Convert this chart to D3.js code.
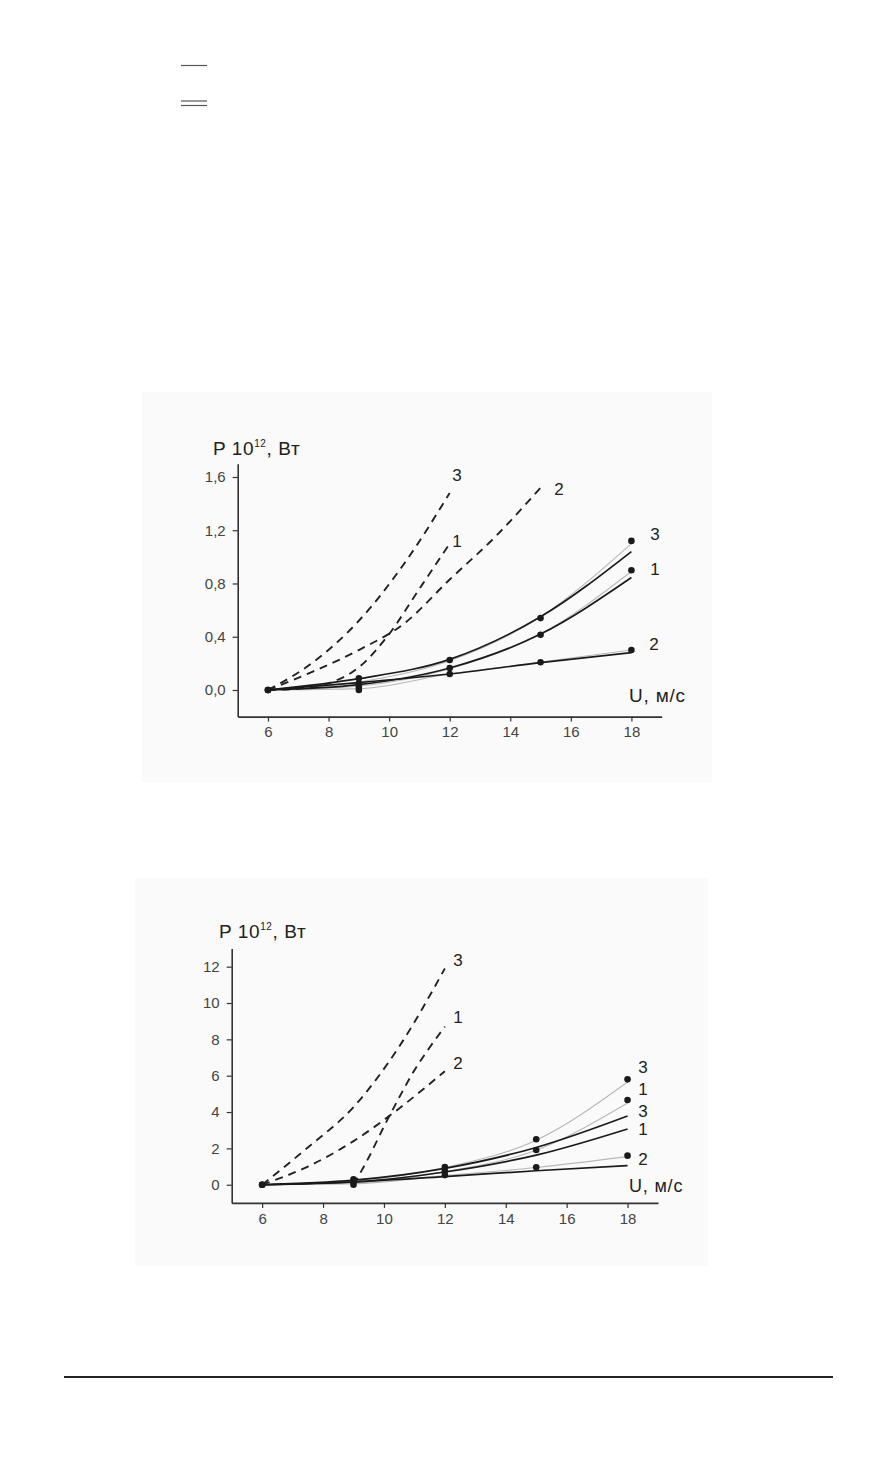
<!DOCTYPE html>
<html>
<head>
<meta charset="utf-8">
<script src="https://cdn.jsdelivr.net/npm/d3@7"></script>
<style>
  body { margin: 0; background: #fff; }
  text { font-family: "Liberation Sans", Arial, sans-serif; }
</style>
</head>
<body>
<script>
// wind speeds where points were computed
var speeds = [6, 9, 12, 15, 18];
var xTicks = [6, 8, 10, 12, 14, 16, 18];

// ---- chart 1 (upper) ----
var yTicks1 = [0, 0.4, 0.8, 1.2, 1.6];
var dots1_3 = [0, 0.088, 0.225, 0.54, 1.12];
var dots1_1 = [0, 0.05, 0.165, 0.415, 0.90];
var dots1_2 = [0, 0.025, 0.12, 0.208, 0.30];
var extraDots1 = [0];           // extra point at 9 m/s
var fit1_3 = [0, 0.085, 0.23, 0.55, 1.04];
var fit1_1 = [0, 0.04, 0.165, 0.42, 0.845];
var fit1_2 = [0, 0.055, 0.12, 0.205, 0.28];
var grey1_3 = [0, 0.06, 0.22, 0.55, 1.10];
var grey1_1 = [0, 0.03, 0.16, 0.42, 0.89];
var grey1_2 = [0, 0.01, 0.12, 0.21, 0.30];
var dashU1_3 = [6, 7.5, 9, 10.5, 12];
var dashP1_3 = [0, 0.21, 0.52, 0.95, 1.48];
var dashU1_1 = [6, 7, 8, 9, 10, 11, 12];
var dashP1_1 = [0, 0.01, 0.05, 0.17, 0.42, 0.76, 1.1];
var dashU1_2 = [6, 7.5, 9, 10.5, 12, 13.5, 15];
var dashP1_2 = [0, 0.14, 0.30, 0.50, 0.83, 1.15, 1.52];

// ---- chart 2 (lower) ----
var yTicks2 = [0, 2, 4, 6, 8, 10, 12];
var dots2_3 = [0, 0.3, 0.97, 2.5, 5.8];
var dots2_1 = [0, 0.15, 0.75, 1.91, 4.66];
var dots2_2 = [0, 0.0, 0.53, 0.96, 1.6];
var fit2_3 = [0, 0.25, 0.9, 2.05, 3.78];
var fit2_1 = [0, 0.15, 0.7, 1.63, 3.07];
var fit2_2 = [0, 0.15, 0.45, 0.77, 1.05];
var grey2_3 = [0, 0.2, 0.95, 2.45, 5.65];
var grey2_1 = [0, 0.1, 0.72, 1.9, 4.5];
var grey2_2 = [0, 0.05, 0.5, 0.95, 1.55];
var dashU2_3 = [6, 7.5, 9, 10.5, 12];
var dashP2_3 = [0, 2.05, 4.27, 7.6, 11.9];
var dashU2_1 = [9, 9.5, 10, 10.5, 11, 11.5, 12];
var dashP2_1 = [0, 1.5, 3.2, 4.8, 6.3, 7.55, 8.7];
var dashU2_2 = [6, 7.5, 9, 10.5, 12];
var dashP2_2 = [0, 1.0, 2.4, 4.2, 6.25];

var width = 884, height = 1464;

var svg = d3.select("body")
            .append("svg")
            .attr("width", width)
            .attr("height", height);

// legend strokes at the top of the page
svg.append("line").attr("x1", 181).attr("x2", 207).attr("y1", 65.5).attr("y2", 65.5)
   .attr("stroke", "#555").attr("stroke-width", 1.2);
svg.append("line").attr("x1", 181).attr("x2", 207).attr("y1", 101).attr("y2", 101)
   .attr("stroke", "#555").attr("stroke-width", 1.2);
svg.append("line").attr("x1", 181).attr("x2", 207).attr("y1", 105.5).attr("y2", 105.5)
   .attr("stroke", "#555").attr("stroke-width", 1.2);

// rule at the bottom
svg.append("line").attr("x1", 64).attr("x2", 833).attr("y1", 1377).attr("y2", 1377)
   .attr("stroke", "#222").attr("stroke-width", 2);

function zip(us, ps) {
  return us.map(function(u, i) { return {u: u, p: ps[i]}; });
}

function drawChart(cfg) {
  var g = svg.append("g");

  g.append("rect")
   .attr("x", cfg.panel[0]).attr("y", cfg.panel[1])
   .attr("width", cfg.panel[2]).attr("height", cfg.panel[3])
   .attr("fill", "#fafafa");

  var x = d3.scaleLinear().domain([5, 19]).range(cfg.xRange);
  var y = d3.scaleLinear().domain(cfg.yDomain).range(cfg.yRange);

  var xAxis = g.append("g")
    .attr("transform", "translate(0," + cfg.yRange[0] + ")")
    .call(d3.axisBottom(x).tickValues(xTicks).tickSize(5).tickSizeOuter(0).tickPadding(5));
  var yAxis = g.append("g")
    .attr("transform", "translate(" + cfg.xRange[0] + ",0)")
    .call(d3.axisLeft(y).tickValues(cfg.yTicks).tickSize(5).tickSizeOuter(0).tickPadding(7)
          .tickFormat(cfg.fmt));

  [xAxis, yAxis].forEach(function(a) {
    a.attr("font-size", null);
    a.select(".domain").attr("stroke", "#333").attr("stroke-width", 1.6);
    a.selectAll(".tick line").attr("stroke", "#333").attr("stroke-width", 1.2);
    a.selectAll(".tick text").attr("fill", "#444").style("font-size", "15px")
     .style("font-family", "'Liberation Sans', Arial, sans-serif");
  });

  var line = d3.line()
    .x(function(d) { return x(d.u); })
    .y(function(d) { return y(d.p); })
    .curve(d3.curveMonotoneX);

  // thin grey curves through the points
  cfg.greys.forEach(function(s) {
    g.append("path").attr("d", line(zip(speeds, s)))
     .attr("fill", "none").attr("stroke", "#b8b8b8").attr("stroke-width", 1.1);
  });

  // dashed curves
  cfg.dashes.forEach(function(s) {
    g.append("path").attr("d", line(zip(s[0], s[1])))
     .attr("fill", "none").attr("stroke", "#222").attr("stroke-width", 1.9)
     .attr("stroke-dasharray", "8,6");
  });

  // black fitted curves
  cfg.fits.forEach(function(s) {
    g.append("path").attr("d", line(zip(speeds, s)))
     .attr("fill", "none").attr("stroke", "#1a1a1a").attr("stroke-width", 1.7);
  });

  // points
  var pts = [];
  cfg.dots.forEach(function(s) { pts = pts.concat(zip(speeds, s)); });
  cfg.extra.forEach(function(p) { pts.push({u: 9, p: p}); });
  g.selectAll("circle.pt")
   .data(pts)
   .enter()
   .append("circle")
   .attr("cx", function(d) { return x(d.u); })
   .attr("cy", function(d) { return y(d.p); })
   .attr("r", 3.3)
   .attr("fill", "#1a1a1a");

  // curve numbers
  cfg.labels.forEach(function(l) {
    g.append("text").attr("x", l[0]).attr("y", l[1])
     .attr("text-anchor", "middle").attr("dominant-baseline", "central")
     .attr("fill", "#222").style("font-size", "17px").text(l[2]);
  });

  // axis titles
  var t = g.append("text").attr("x", cfg.title[0]).attr("y", cfg.title[1])
    .attr("fill", "#222").style("font-size", "19px").style("letter-spacing", "0.6px");
  t.append("tspan").text("P 10");
  t.append("tspan").attr("dy", -8).style("font-size", "10px").text("12");
  t.append("tspan").attr("dy", 8).text(", Вт");

  g.append("text").attr("x", cfg.uTitle[0]).attr("y", cfg.uTitle[1])
   .attr("fill", "#222").style("font-size", cfg.uSize).style("letter-spacing", "0.8px")
   .text("U, м/с");
}

var comma = function(d) { return d3.format(".1f")(d).replace(".", ","); };

drawChart({
  panel: [142, 392, 570, 390],
  xRange: [237.7, 661.7],
  yDomain: [-0.2, 1.7],
  yRange: [716.6, 463.7],
  yTicks: yTicks1,
  fmt: comma,
  greys: [grey1_3, grey1_1, grey1_2],
  dashes: [[dashU1_3, dashP1_3], [dashU1_1, dashP1_1], [dashU1_2, dashP1_2]],
  fits: [fit1_3, fit1_1, fit1_2],
  dots: [dots1_3, dots1_1, dots1_2],
  extra: extraDots1,
  labels: [[457, 475, "3"], [457, 541, "1"], [559, 489, "2"],
           [655, 534, "3"], [655, 569, "1"], [654, 644, "2"]],
  title: [213, 455],
  uTitle: [629, 702],
  uSize: "19px"
});

drawChart({
  panel: [135, 878, 573, 388],
  xRange: [231.7, 658],
  yDomain: [-1, 13],
  yRange: [1202.9, 948.5],
  yTicks: yTicks2,
  fmt: d3.format("d"),
  greys: [grey2_3, grey2_1, grey2_2],
  dashes: [[dashU2_3, dashP2_3], [dashU2_1, dashP2_1], [dashU2_2, dashP2_2]],
  fits: [fit2_3, fit2_1, fit2_2],
  dots: [dots2_3, dots2_1, dots2_2],
  extra: [],
  labels: [[458, 960, "3"], [458, 1017, "1"], [458, 1063, "2"],
           [643, 1067, "3"], [643, 1089, "1"], [643, 1111, "3"],
           [643, 1129, "1"], [643, 1159, "2"]],
  title: [219, 938],
  uTitle: [629, 1192],
  uSize: "18px"
});
</script>
</body>
</html>
